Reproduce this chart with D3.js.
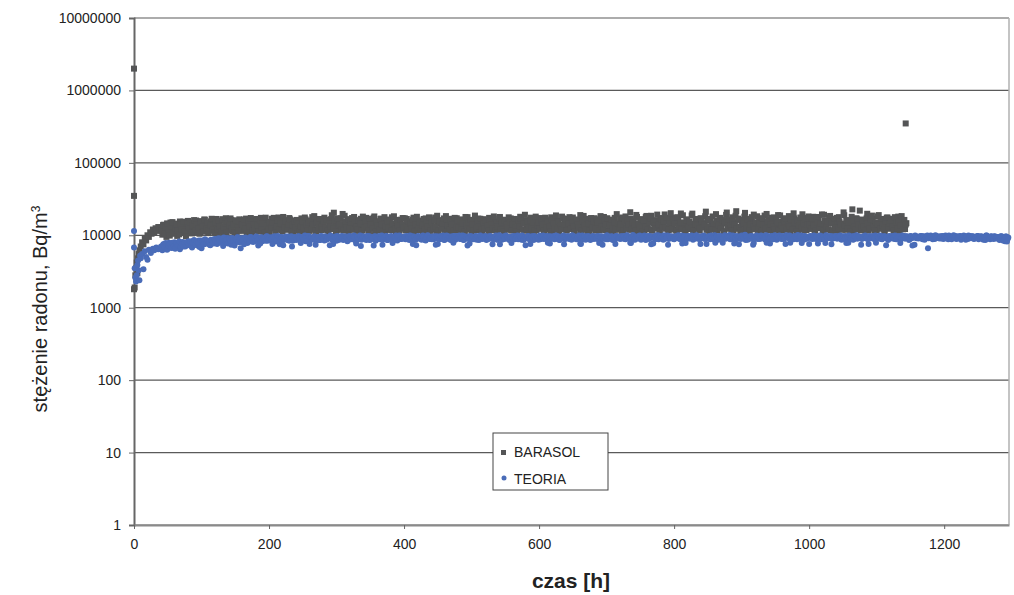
<!DOCTYPE html>
<html lang="pl">
<head>
<meta charset="UTF-8">
<title>Radon concentration</title>
<style>
    html, body { margin: 0; padding: 0; background: #fff; overflow: hidden; }
    text { font-family: "Liberation Sans", Arial, sans-serif; fill: #222; }
</style>
</head>
<body>
<script src="https://cdn.jsdelivr.net/npm/d3@7"></script>
<script>

// ---- data ----
const yTicks = [1, 10, 100, 1000, 10000, 100000, 1000000, 10000000]
const xTicks = [0, 200, 400, 600, 800, 1000, 1200]

// start-up / outlier points [hour, Bq/m3]
const barasolEarly = [
    [0, 2000000], [0, 35000], [0, 1800], [1, 1900], [2, 2800], [3, 3500], [4, 4200],
    [5, 3000], [6, 4800], [7, 5500], [8, 6200], [9, 5000], [10, 7000], [12, 8000],
    [14, 7500], [16, 9000], [18, 8500], [20, 10000], [22, 9500], [24, 11000],
    [26, 10500], [28, 12000], [30, 11000], [32, 12500], [34, 11500], [36, 13000],
    [38, 12000], [1143, 350000]
]
const teoriaEarly = [
    [0, 11500], [0, 6800], [1, 3500], [2, 2600], [3, 2300], [4, 2800], [5, 3900],
    [6, 4500], [7, 3300], [8, 2400], [9, 5200], [10, 4800], [12, 5500], [14, 3400],
    [16, 6000], [18, 5000], [20, 4600], [22, 6300], [25, 5700], [28, 6500],
    [30, 6200], [33, 6800], [36, 6400]
]

// hourly readings from hour 40, in kBq/m3 (even hours / odd hours)
const startHour = 40
const barasolEvenK = [
    12.5, 10.2, 14, 11, 9.5, 13.5, 11.8, 15, 10.5, 13, 12, 14.5, 9.8, 12.8, 15.5, 11.2, 13.6, 10.8, 14.2, 12.2,
    15.8, 11.4, 13.2, 10.6, 14.8, 12.6, 16, 11, 13.8, 10.9, 15.2, 12.4, 16.5, 11.6, 14.4, 10.7, 13.4, 15.6, 11.9, 14.6,
    12.3, 16.8, 11.1, 14.1, 13, 15.9, 10.8, 12.9, 17.2, 11.7, 14.9, 12.1, 16.2, 11.3, 13.7, 15.4, 10.9, 14.3, 16.6, 12.7,
    11.5, 15.1, 13.3, 17, 11.2, 14.7, 12.5, 16.4, 10.8, 13.9, 15.7, 11.8, 14.5, 12.2, 17.4, 11.4, 13.6, 16.1, 12.8, 15.3,
    11, 14.2, 16.9, 12.4, 13.8, 11.6, 15.5, 17.6, 12.1, 14.6, 11.3, 16.3, 13.1, 15, 11.9, 17.3, 12.6, 14.4, 10.9, 16,
    13.5, 11.7, 15.8, 12.3, 17.1, 14, 11.2, 16.6, 12.9, 15.2, 11.5, 13.7, 17.8, 12, 14.8, 11.4, 16.2, 13.2, 15.6, 11.8,
    14.1, 17.5, 12.5, 15.9, 11.1, 13.4, 16.7, 12.2, 20.5, 14.6, 11.6, 15.4, 13, 17.2, 11.9, 14.3, 18.6, 12.7, 15.1, 11.3,
    16.4, 13.6, 12.1, 17.9, 14.7, 11.5, 15.7, 13.1, 16.9, 11.8, 14.2, 12.4, 17.4, 15.3, 11.2, 13.8, 16.1, 12.8, 18.2, 14.5,
    11.6, 15.6, 13.3, 17, 12, 14.9, 11.4, 16.5, 13.7, 15.2, 11.9, 17.7, 12.6, 14.4, 11.1, 16.3, 13, 15.8, 12.3, 17.3,
    14, 11.7, 16.8, 12.9, 15, 11.3, 13.5, 17.5, 12.2, 14.7, 11.8, 16, 13.9, 15.5, 10.9, 12.5, 17.1, 14.3, 11.5, 16.6,
    13.2, 15.9, 12, 17.6, 11.4, 14.6, 9.8, 16.2, 12.7, 15.1, 11.9, 18.4, 13.6, 14.8, 11.2, 16.9, 12.4, 15.4, 13, 17.2,
    11.6, 14.1, 16.5, 12.1, 15.7, 11.3, 13.8, 17.8, 12.6, 14.9, 10.6, 16.3, 13.3, 15.2, 11.8, 17, 12.9, 14.5, 11.1, 16.7,
    13.4, 15.8, 12.3, 17.4, 11.7, 14.2, 16.1, 12.8, 15.5, 11.2, 13.9, 17.9, 12.2, 14.7, 11.5, 16.4, 13.1, 15, 11.9, 17.1,
    14.4, 12.5, 16.8, 11.4, 15.3, 13.6, 18, 12, 14.8, 11.6, 16.2, 13.2, 15.6, 11.1, 17.5, 12.7, 14.1, 16.6, 11.8, 15.1,
    13, 17.3, 12.4, 14.9, 11.3, 16.5, 13.7, 15.4, 12.1, 17.7, 11.5, 14.3, 16, 12.9, 15.8, 11.2, 13.5, 18.1, 12.6, 14.6,
    11.9, 16.9, 13.3, 15.2, 12.2, 17.6, 11.4, 14.5, 16.3, 12.8, 15.7, 11.7, 13.8, 18.5, 12.3, 14.9, 11, 16.7, 13.1, 15.5,
    12.5, 17.2, 11.6, 14.2, 16.1, 12, 15.3, 13.6, 17.9, 11.8, 14.7, 9.6, 16.4, 12.7, 15, 11.3, 17.4, 13.4, 14.4, 12.1,
    16.8, 11.5, 15.6, 13, 18.2, 12.4, 14.6, 11.9, 17, 13.7, 15.9, 12.2, 19.1, 11.4, 14.3, 16.5, 12.8, 15.2, 11.7, 17.8,
    13.5, 15, 12.1, 18.6, 11.6, 14.8, 16.2, 12.6, 15.7, 11.2, 17.3, 13.2, 14.1, 19.4, 12.3, 15.4, 11.8, 16.9, 13.9, 14.5,
    12, 17.6, 11.5, 15.8, 13.3, 20, 12.7, 14.9, 11.3, 16.6, 13.8, 15.1, 12.2, 18.8, 11.9, 14.4, 16.4, 12.5, 15.5, 11.6,
    17.1, 13.1, 14.7, 18.3, 12, 15.9, 11.4, 16.8, 13.6, 14.2, 12.4, 19.6, 11.7, 15.3, 17.4, 12.9, 14.6, 11.2, 16.1, 20.6,
    12.3, 15.7, 13.4, 17.7, 11.8, 14.9, 21.5, 12.6, 16.3, 11.5, 15.1, 13.9, 18.1, 12.1, 14.5, 16.9, 11.3, 15.6, 13.2, 19.3,
    12.8, 14.3, 11.6, 17.2, 13.5, 15.4, 12.2, 18.7, 11.9, 14.8, 16.5, 12.5, 15.9, 11.4, 17.6, 13.7, 14.1, 19, 12, 15.3,
    11.7, 16.7, 13, 14.6, 12.4, 18.4, 11.2, 15.8, 13.8, 17.1, 12.7, 14.4, 11.5, 16.2, 13.3, 19.5, 12.1, 15, 11.8, 17.3,
    13.6, 14.9, 12.3, 18, 11.6, 15.5, 13.1, 16.6, 12.6, 14.2, 11.3, 19.2, 13.9, 15.7, 12, 17.5, 11.7, 14.7, 16.4, 12.9,
    15.2, 11.5, 17.8, 13.4, 14.5, 12.2, 18.9, 11.9, 16, 13.7, 15.4, 12.5, 22.8, 11.4, 14.8, 17.2, 12.8, 15.9, 11.7, 16.5,
    13.2, 14.3, 12.1, 19.8, 11.6, 15.6, 13.5, 17, 12.4, 14.6, 11.8, 18.3, 13, 15.1, 12.7, 16.8, 11.3, 14.1, 17.6, 12.3,
    15.3, 13.6, 16.9, 11.9, 14.4, 12.6, 18.1, 11.5, 15.8, 13.1, 16.2, 12.2, 14.7
]
const barasolOddK = [
    11.5, 13.8, 10.4, 12.9, 14.6, 11.1, 9.9, 13.1, 15.2, 10.7, 12.4, 14.1, 11.6, 10.3, 13.9, 12.1, 15.4, 11.3, 9.7, 14.4,
    12.8, 15, 10.8, 13.5, 16.2, 11.9, 14.2, 12.3, 10.5, 15.7, 13.3, 11.2, 16.4, 12.6, 14.9, 11.5, 13.6, 16.9, 12, 10.9,
    14.8, 12.2, 15.8, 13.4, 11.4, 16.7, 12.7, 14.4, 11, 15.3, 13.8, 17.1, 12.3, 14, 10.9, 16.1, 13, 11.7, 15.6, 14.2,
    13.9, 16.5, 12.3, 11.1, 15.4, 13.2, 17.3, 11.7, 14.1, 12.6, 16.8, 13.5, 11.3, 15.9, 12.9, 14.6, 10.8, 17.5, 13.7, 12.1,
    15.2, 12.7, 14.9, 17.4, 11.5, 13.4, 16.1, 12.2, 14.7, 11.8, 17.9, 13, 15.6, 12.5, 14.2, 16.6, 11.2, 13.9, 15.3, 12.8,
    16.3, 14.5, 11.4, 13.1, 15.7, 12.4, 17.6, 13.8, 11.7, 14.9, 16, 12.1, 14.3, 18.4, 11.5, 15.1, 12.7, 16.8, 13.4, 12,
    15.5, 12.9, 16.4, 11.8, 14.6, 13.2, 18.9, 12.4, 15.9, 11.3, 17.1, 13.7, 14.1, 12.1, 19.7, 11.6, 15.3, 13, 16.7, 12.5,
    14.8, 17.3, 11.9, 15.1, 13.4, 12.2, 16.2, 14.4, 11.5, 18.1, 12.8, 15.6, 13.2, 11.7, 16.9, 14, 12.5, 17.5, 11.4, 15.4,
    13.6, 12, 16.7, 14.2, 11.2, 17.8, 13.1, 15.3, 12.6, 16.1, 11.8, 14.5, 18.3, 12.3, 15.8, 13.5, 11.6, 16.4, 14, 12.8,
    17.2, 13.3, 11.9, 15.6, 14.7, 12.4, 16.5, 11.4, 14.1, 18, 12.9, 15.2, 11.7, 13.8, 16.8, 12.1, 15, 13.4, 17.7, 11.5,
    14.9, 12.6, 16.1, 13.2, 18.6, 11.8, 15.4, 12.3, 14.4, 17.1, 11.1, 16.6, 13.6, 12.2, 15.7, 14.3, 11.6, 17.4, 12.8, 15.9,
    13, 16.4, 12.4, 14.7, 11.4, 17.9, 13.5, 15.1, 12, 16.3, 14, 11.7, 18.7, 12.6, 15.5, 13.1, 16.9, 11.9, 14.6, 12.3,
    15.8, 13.7, 11.5, 16.6, 14.2, 12.5, 18.2, 11.8, 15.2, 13.3, 17, 12.2, 14.8, 11.4, 16.1, 13.9, 12.7, 17.7, 15, 11.6,
    14.1, 16.8, 12.8, 11.3, 15.9, 13.4, 17.3, 12.1, 14.6, 19.2, 11.7, 15.4, 13, 16.2, 12.4, 14.9, 11.5, 18.1, 13.6, 15.2,
    12.3, 16, 14.3, 11.8, 17.5, 12.9, 15.6, 13.2, 11.4, 16.7, 14.5, 12.6, 18.8, 11.9, 15.3, 13.8, 12.2, 17.1, 14, 16.4,
    11.6, 14.7, 17.8, 12.5, 15.1, 13.1, 11.3, 16.5, 14.2, 12.7, 19, 11.8, 15.7, 13.5, 12, 16.9, 14.4, 11.5, 17.3, 13,
    15.4, 12.3, 16.6, 14.8, 11.7, 18.4, 13.3, 12.1, 15.9, 14, 17.2, 11.4, 13.7, 16.3, 12.6, 15, 11.9, 19.6, 14.5, 12.8,
    13.9, 17.6, 11.6, 15.5, 12.4, 16.1, 14.2, 20.8, 12, 15.2, 13.5, 11.8, 17.9, 14.6, 12.7, 16.7, 11.3, 15.8, 13.1, 18.5,
    12.2, 14.9, 16.9, 11.7, 15.3, 13.6, 12.5, 19.3, 14.1, 11.4, 16.4, 13, 15.7, 12.9, 17.4, 11.9, 14.7, 20.2, 12.3, 16,
    14.4, 11.6, 17.7, 13.4, 15, 12.1, 18.9, 14.8, 11.8, 16.2, 13.2, 15.5, 12.6, 19.9, 11.5, 14.2, 16.8, 13.7, 12.4, 17.1,
    15.6, 12.8, 14.1, 21.2, 11.9, 16.5, 13.3, 12.2, 18.2, 14.6, 11.7, 15.9, 13.8, 17.3, 12.5, 16.1, 11.4, 14.9, 19.1, 12.9,
    16.6, 13.5, 11.8, 15.4, 14.3, 18.6, 12.3, 17, 13.1, 11.6, 15.8, 14.7, 20.4, 12.6, 16.3, 11.9, 14, 17.8, 13.4, 12.1,
    15.1, 18.3, 12.7, 14.5, 11.5, 16.9, 13.9, 12.4, 19.7, 15.4, 11.8, 14.2, 17.5, 13.2, 12, 16.2, 14.8, 11.6, 18.8, 13.6,
    12.5, 15.6, 17.2, 11.9, 14.3, 13.1, 16.6, 12.2, 20.1, 14.9, 11.4, 15.8, 13.5, 17.6, 12.8, 14.6, 11.7, 16.4, 13.9, 18.2,
    14.1, 12.3, 16.8, 13.7, 11.6, 17.9, 15.2, 12.9, 14.4, 19.4, 11.8, 16, 13.3, 15.5, 12.1, 18.5, 14.7, 11.5, 16.9, 13,
    17.4, 12.6, 15.3, 14, 11.9, 20.7, 13.6, 16.2, 12.4, 14.8, 11.3, 18, 15.7, 13.1, 12.2, 16.6, 14.3, 21.9, 12.7, 15.9,
    13.4, 11.7, 17.1, 14.6, 12.5, 16.4, 18.7, 13.2, 11.6, 15.1, 14.2, 19, 12.3, 16.8, 13.8, 11.9, 15.6, 17.5, 12.8, 14.4,
    16.1, 13.3, 11.5, 17.8, 14.9, 12.4, 15.5, 13.7, 18.4, 12.1, 16.3, 14.1
]
const teoriaEvenK = [
    7, 6.2, 7.6, 6.8, 7.3, 6.5, 7.9, 7.1, 6.7, 7.5, 8, 6.9, 7.4, 7.8, 6.4, 7.2, 8.1, 7.6, 7, 7.7,
    8.2, 7.3, 7.9, 6.8, 8.4, 7.6, 8.1, 7.2, 8.5, 7.8, 6.6, 8.3, 7.5, 8.6, 7.9, 8.2, 7.4, 8.7, 8, 7.7,
    8.4, 8.9, 7.8, 8.6, 9, 8.2, 7.1, 8.8, 8.5, 9.2, 8.1, 8.7, 7.4, 9.1, 8.3, 8.9, 8.6, 9.3, 8, 6.6,
    8.8, 9.2, 8.4, 9, 7.8, 8.6, 9.4, 8.2, 8.9, 9.1, 8.5, 9.5, 7.2, 8.7, 9.3, 8.3, 9, 8.8, 9.6, 8.4,
    9.1, 8.6, 9.4, 8.9, 9.7, 8.2, 9.2, 8.7, 7.5, 9.5, 8.5, 9, 9.3, 8.8, 9.6, 8.4, 9.1, 7, 8.9, 9.4,
    8.6, 9.2, 9.7, 8.5, 9, 8.8, 9.5, 8.3, 9.3, 9.8, 7.6, 8.9, 9.1, 8.7, 9.6, 8.4, 9.4, 9, 8.6, 9.7,
    9.2, 8.5, 9.5, 8.9, 9.3, 7.3, 9.7, 8.7, 9.1, 9.6, 8.4, 9, 9.4, 8.8, 9.8, 8.6, 9.2, 9.5, 8.3, 9.1,
    9.6, 8.9, 9.3, 9.9, 8.5, 9.1, 9.4, 8.8, 7.1, 9.7, 9, 9.5, 8.6, 9.2, 9.8, 8.7, 9.4, 9, 9.6, 8.4,
    9.3, 9.7, 8.8, 9.1, 7.4, 9.5, 8.9, 9.8, 8.6, 9.2, 9.6, 8.7, 9.4, 9, 9.9, 8.5, 9.3, 9.7, 8.9, 9.1,
    9.5, 8.8, 9.8, 9.2, 8.6, 9.4, 9.7, 8.9, 9.1, 7.3, 9.6, 9, 9.3, 8.7, 9.9, 9.2, 8.5, 9.5, 9.8, 8.9,
    9.1, 9.6, 8.8, 9.4, 9.7, 7.6, 9.2, 8.9, 9.5, 9.9, 8.6, 9.3, 9, 9.7, 8.8, 9.4, 9.1, 9.8, 8.7, 9.5,
    9.2, 9.9, 8.9, 9.4, 8.6, 9.6, 9.1, 7.2, 9.7, 9, 9.5, 8.8, 9.3, 9.8, 8.7, 9.4, 9.1, 9.6, 8.9, 9.3,
    9.8, 8.6, 9.5, 9, 9.7, 9.2, 8.8, 9.4, 9.9, 8.7, 9.1, 7.5, 9.6, 9.3, 8.9, 9.8, 9, 9.5, 8.6, 9.2,
    9.7, 9.1, 8.8, 9.5, 9.9, 9, 9.3, 8.7, 9.6, 9.2, 7.3, 9.4, 9.8, 8.9, 9.1, 9.7, 8.6, 9.5, 9.3, 9,
    9.6, 8.8, 9.4, 9.9, 9.1, 9.3, 8.7, 9.7, 7.7, 9.5, 9, 9.8, 8.9, 9.2, 9.6, 8.6, 9.4, 9.1, 9.9, 8.8,
    9.3, 9.7, 9, 9.5, 8.7, 9.8, 9.2, 9.4, 8.9, 9.6, 9.1, 7.6, 9.9, 8.8, 9.3, 9.7, 9, 9.5, 8.6, 9.4,
    9.8, 9.1, 9.6, 8.9, 9.3, 9.7, 8.7, 7.4, 9.5, 9.2, 9.9, 8.8, 9.4, 9, 9.6, 9.1, 8.6, 9.8, 9.3, 9.5,
    8.9, 9.7, 9.2, 9.4, 8.8, 10, 9.1, 9.6, 7.8, 9.3, 9.8, 8.7, 9.5, 9, 9.7, 9.2, 8.9, 9.4, 9.9, 8.6,
    9.5, 9.1, 9.8, 7.5, 9.3, 9.6, 8.8, 9.4, 10, 9, 9.7, 9.2, 8.7, 9.5, 9.1, 9.9, 8.9, 9.4, 9.6, 9.2,
    8.8, 9.7, 9.3, 10, 9, 9.5, 7.7, 9.2, 9.8, 8.9, 9.6, 9.1, 9.4, 9.9, 8.7, 9.3, 9.7, 9, 9.5, 8.8,
    9.6, 9.2, 9.9, 8.9, 7.6, 9.4, 9.7, 9.1, 9.5, 8.8, 10, 9.3, 9.6, 8.7, 9.8, 9.2, 7.9, 9.4, 9, 9.7,
    9.3, 10.1, 8.9, 9.5, 9.2, 9.8, 8.8, 9.6, 7.5, 9.4, 9.9, 9.1, 9.7, 8.6, 9.3, 9.6, 9, 9.8, 9.2, 7.8,
    9.5, 9.9, 8.9, 9.4, 9.7, 9.1, 9.6, 8.8, 10, 9.3, 9.5, 7.7, 9.8, 9, 9.4, 9.7, 8.7, 9.2, 9.9, 9.1,
    9.6, 8.9, 9.4, 10, 9.2, 9.7, 7.9, 9.5, 9, 9.8, 9.3, 8.8, 9.6, 9.1, 9.9, 9.4, 8.7, 9.7, 9.2, 9.5,
    7.6, 9.8, 9, 9.4, 9.7, 8.9, 9.5, 9.2, 9.9, 8.8, 9.6, 9.3, 7.8, 9.7, 9.1, 9.4, 9.8, 8.9, 9.5, 9.2,
    9.7, 9, 9.4, 9.9, 8.7, 9.6, 9.2, 9.8, 9.1, 7.9, 9.5, 9.3, 9.7, 8.8, 9.4, 10, 9, 9.6, 9.2, 8.9,
    9.5, 9.8, 9.1, 9.4, 7.6, 9.7, 9.2, 9.6, 8.9, 9.9, 9.3, 9.5, 9, 9.8, 8.8, 9.4, 9.7, 7.3, 9.2, 9.6,
    9.4, 9.1, 9.8, 8.9, 9.5, 9.7, 9.2, 9.6, 8.8, 9.9, 9.3, 9, 9.7, 9.4, 8.6, 9.8, 9.1, 9.5, 7.4, 9.3,
    9.6, 9, 9.4, 9.8, 8.8, 9.7, 9.2, 9.5, 6.6, 9.4, 9.9, 9.1, 9.6, 8.9, 9.8, 9.3, 9.5, 9.7, 9, 9.6,
    9.2, 9.9, 9.4, 8.8, 9.7, 9.1, 9.5, 10, 9.3, 8.9, 9.6, 9.2, 9.8, 9, 9.4, 9.7, 8.7, 9.5, 9.9, 9.1,
    9.4, 9.7, 8.9, 9.5, 9.2, 9.8, 9, 9.6, 9.3, 8.7, 9.5, 9.9, 9.1, 9.4, 8.8, 9.7, 9.2, 9.6, 9, 9.5,
    9.3, 8.6, 9.7, 9.1, 9.4, 8.3, 9.6, 8.9
]
const teoriaOddK = [
    6.6, 7.4, 6.9, 7.8, 6.3, 7.2, 7.6, 6.8, 7.9, 7.1, 6.5, 7.7, 7.3, 8.2, 6.9, 7.5, 7, 7.9, 7.4, 8,
    7.6, 8.3, 7.1, 7.9, 8.6, 7.4, 8.2, 7.8, 6.9, 8.5, 8, 7.5, 8.8, 7.7, 8.4, 8.1, 7.3, 8.6, 7.9, 8.9,
    8.2, 7.6, 9.1, 8.5, 7.9, 8.8, 9.3, 8.3, 8.7, 7.7, 9, 8.4, 9.2, 8.6, 7.2, 8.9, 9.4, 8.1, 8.7, 9.1,
    8.5, 7.5, 9.3, 8.7, 9, 8.3, 9.5, 8.9, 8.1, 9.2, 9.6, 8.6, 9, 7.7, 9.4, 8.8, 9.1, 8.4, 9.7, 8.9,
    9.3, 8.7, 7.6, 9.5, 9, 8.5, 9.8, 9.2, 8.8, 9.4, 7.3, 9.1, 9.6, 8.6, 9.3, 8.9, 9.7, 8.4, 9.2, 9.5,
    8.8, 9.6, 9.1, 7.8, 9.4, 8.7, 9.9, 9.2, 8.5, 9.7, 9, 9.3, 8.9, 9.6, 7.4, 9.1, 9.5, 8.6, 9.8, 9.2,
    9, 9.7, 8.7, 9.4, 9.1, 9.9, 8.8, 7.6, 9.5, 9.2, 9.8, 8.6, 9.3, 9.6, 9, 8.9, 9.7, 9.4, 8.5, 9.8,
    9.2, 8.8, 9.7, 9.4, 7.7, 9.5, 9, 9.9, 8.7, 9.3, 9.6, 8.9, 9.8, 9.1, 8.6, 9.5, 9.2, 7.2, 9.7, 9.4,
    8.9, 9.6, 9.1, 9.9, 8.8, 9.4, 9.7, 8.6, 9.3, 9, 9.8, 7.8, 9.5, 9.2, 8.7, 9.6, 9.9, 8.9, 9.4, 9.1,
    9.7, 9, 8.8, 9.5, 9.9, 9.2, 7.6, 9.6, 8.7, 9.4, 9.8, 9.1, 8.9, 9.7, 9.3, 8.6, 9.5, 10, 9, 9.2,
    8.8, 9.4, 9.7, 7.4, 9.1, 9.6, 8.9, 9.8, 9.3, 8.7, 9.5, 9.9, 9, 9.2, 8.6, 9.7, 7.9, 9.4, 9.8, 9.1,
    9.5, 8.9, 9.2, 9.9, 8.7, 9.6, 9.4, 9, 7.7, 9.8, 9.1, 9.5, 8.8, 9.3, 9.7, 8.6, 9.9, 9.2, 9.4, 9,
    9.6, 9.3, 8.9, 9.8, 9.1, 7.5, 9.5, 9.7, 8.8, 9.4, 10, 9.2, 8.7, 9.6, 9, 9.9, 9.3, 8.9, 9.5, 7.8,
    9.2, 9.8, 9, 9.5, 8.8, 9.7, 9.3, 9.9, 8.6, 9.4, 9.1, 9.7, 8.9, 7.6, 9.6, 9.2, 9.8, 9, 9.4, 8.7,
    9.9, 9.3, 9.6, 8.9, 9.1, 9.8, 7.9, 9.4, 9.7, 9, 9.5, 8.8, 9.9, 9.2, 9.6, 8.7, 9.3, 9.8, 7.5, 9.5,
    9.1, 9.7, 8.9, 9.4, 10, 9.2, 9.6, 8.8, 9.5, 9.9, 7.7, 9.3, 9.1, 9.7, 8.7, 9.5, 9.8, 9, 9.4, 9.6,
    8.9, 9.5, 9.2, 9.8, 7.8, 9.4, 9.7, 9, 9.6, 8.8, 9.9, 9.3, 9.1, 9.7, 8.6, 9.5, 7.6, 9.8, 9.2, 9.4,
    9.6, 9, 9.8, 8.9, 9.4, 9.7, 9.2, 7.9, 9.5, 10.1, 8.8, 9.3, 9.6, 9.1, 9.9, 8.7, 9.4, 9.7, 9, 9.5,
    9.8, 8.9, 9.3, 9.6, 7.7, 9.2, 9.9, 9.4, 8.8, 9.7, 9.1, 9.5, 10, 9, 9.3, 7.4, 9.8, 9.2, 9.6, 8.9,
    9.4, 9.7, 9.1, 9.5, 8.8, 9.9, 9.3, 9.6, 7.8, 9.2, 9.8, 9, 9.5, 9.7, 8.9, 9.4, 10, 9.1, 9.6, 7.6,
    9.3, 9.8, 9, 9.5, 9.2, 9.7, 8.8, 9.9, 9.4, 9.1, 7.9, 9.6, 9.3, 9.8, 8.9, 9.5, 9.2, 10, 9, 9.7,
    9.4, 8.8, 9.6, 9.9, 7.7, 9.3, 9.7, 9.1, 9.5, 8.9, 9.8, 9.2, 10.2, 9.6, 8.7, 9.4, 9, 9.8, 7.4, 9.5,
    9.1, 9.7, 9.3, 8.9, 9.9, 9.6, 9.2, 9.5, 7.9, 9.8, 9, 9.4, 9.7, 8.8, 10, 9.3, 9.6, 9.1, 9.5, 8.9,
    9.8, 9.2, 7.6, 9.7, 9.4, 9.9, 9, 9.5, 8.8, 9.6, 9.3, 10.1, 9.1, 9.7, 7.8, 9.4, 9.8, 8.9, 9.5, 9.2,
    9.7, 9.4, 8.9, 9.9, 9.2, 9.6, 7.7, 9.3, 9.8, 9, 9.5, 8.8, 10, 9.4, 9.7, 9.1, 7.5, 9.6, 9.3, 9.8,
    9, 9.5, 9.8, 8.9, 9.3, 9.7, 9.1, 7.8, 9.6, 9.9, 9.2, 9.4, 8.7, 9.8, 9.5, 9, 9.7, 9.3, 7.4, 9.6,
    9.2, 9.9, 9.4, 8.8, 9.7, 9.1, 9.5, 9.8, 9, 7.9, 9.6, 9.3, 9.9, 8.9, 9.4, 9.7, 9.2, 9.5, 8.6, 9.8,
    9.1, 9.6, 9.3, 9.9, 8.8, 9.5, 9.7, 7.8, 9.2, 9.4, 9.8, 9, 9.6, 9.3, 8.9, 9.7, 7.2, 9.4, 9.9, 9.1,
    9.5, 9.2, 9.8, 9, 9.6, 8.7, 9.4, 9.9, 9.1, 9.7, 9.3, 8.8, 9.5, 10, 9.2, 9.6, 9, 9.4, 9.8, 8.9,
    9.7, 9.1, 9.5, 9.9, 9.3, 8.8, 9.6, 9.2, 9.8, 9, 9.4, 9.7, 8.7, 9.5, 9.9, 9.1, 9.6, 8.9, 9.3, 9.8,
    9.2, 9.6, 9, 9.4, 9.8, 8.8, 9.5, 9.7, 9.1, 9.3, 8.6, 9.9, 9.4, 9, 9.6, 9.2, 8.9, 9.7, 9.3, 9.5,
    8.8, 9.4, 9.7, 8.5, 9.2, 9.6, 8.2, 9.3
]

// ---- layout ----
const width = 1014
const height = 595
const margin = { top: 18, right: 5, bottom: 70, left: 134 }
const w = width - margin.left - margin.right
const h = height - margin.top - margin.bottom

const svg = d3.select('body').append('svg')
    .attr('width', width)
    .attr('height', height)

const x = d3.scaleLinear().domain([0, 1296]).range([0, w])
const y = d3.scaleLog().domain([1, 10000000]).range([h, 0])

const g = svg.append('g')
    .attr('transform', `translate(${margin.left}, ${margin.top})`)

// grid lines
g.selectAll('.grid')
    .data(yTicks)
    .enter()
    .append('line')
    .attr('class', 'grid')
    .attr('x1', 0).attr('x2', w)
    .attr('y1', d => y(d)).attr('y2', d => y(d))
    .attr('stroke', '#5a5a5a')
    .attr('stroke-width', 1.2)

// right border
g.append('line')
    .attr('x1', w).attr('x2', w)
    .attr('y1', 0).attr('y2', h)
    .attr('stroke', '#b0b0b0')
    .attr('stroke-width', 1.5)

// axes
const yAxis = g.append('g')
    .call(d3.axisLeft(y).tickValues(yTicks).tickFormat(d3.format('d')).tickSize(5).tickPadding(8))
yAxis.select('.domain').attr('stroke', '#666').attr('stroke-width', 2)
yAxis.selectAll('.tick line').attr('stroke', '#666')
yAxis.selectAll('text').style('font-size', '14px').attr('fill', '#222')

const xAxis = g.append('g')
    .attr('transform', `translate(0, ${h})`)
    .call(d3.axisBottom(x).tickValues(xTicks).tickFormat(d3.format('d')).tickSize(4).tickPadding(10).tickSizeOuter(0))
xAxis.select('.domain').attr('stroke', '#8a8a8a').attr('stroke-width', 2)
xAxis.selectAll('.tick line').attr('stroke', '#666')
xAxis.selectAll('text').style('font-size', '14px').attr('fill', '#222')

// points: merge even and odd hour readings
const hourly = (even, odd) => even.map((v, i) => [startHour + 2 * i, v * 1000])
    .concat(odd.map((v, i) => [startHour + 1 + 2 * i, v * 1000]))
const barasolPts = barasolEarly.concat(hourly(barasolEvenK, barasolOddK))
const teoriaPts = teoriaEarly.concat(hourly(teoriaEvenK, teoriaOddK))

g.selectAll('.barasol')
    .data(barasolPts)
    .enter()
    .append('rect')
    .attr('class', 'barasol')
    .attr('x', d => x(d[0]) - 3)
    .attr('y', d => y(d[1]) - 3)
    .attr('width', 6)
    .attr('height', 6)
    .attr('fill', '#545556')

g.selectAll('.teoria')
    .data(teoriaPts)
    .enter()
    .append('circle')
    .attr('class', 'teoria')
    .attr('cx', d => x(d[0]))
    .attr('cy', d => y(d[1]))
    .attr('r', 3)
    .attr('fill', '#4a6cb8')

// legend
const legend = svg.append('g').attr('transform', 'translate(493, 433)')
legend.append('rect')
    .attr('width', 115).attr('height', 57)
    .attr('fill', '#fff')
    .attr('stroke', '#444')
    .attr('stroke-width', 1)
legend.append('rect')
    .attr('x', 8).attr('y', 17).attr('width', 5).attr('height', 5)
    .attr('fill', '#545556')
legend.append('circle')
    .attr('cx', 11).attr('cy', 45).attr('r', 2.5)
    .attr('fill', '#4a6cb8')
legend.append('text').attr('x', 21).attr('y', 24).style('font-size', '14px').text('BARASOL')
legend.append('text').attr('x', 21).attr('y', 51).style('font-size', '14px').text('TEORIA')

// axis titles
svg.append('text')
    .attr('x', 571)
    .attr('y', 588)
    .attr('text-anchor', 'middle')
    .style('font-size', '21px')
    .style('font-weight', 'bold')
    .text('czas [h]')

const yTitle = svg.append('text')
    .attr('transform', 'translate(47, 309) rotate(-90)')
    .attr('text-anchor', 'middle')
    .style('font-size', '20px')
yTitle.append('tspan').text('stężenie radonu, Bq/m')
yTitle.append('tspan').attr('baseline-shift', 'super').style('font-size', '12px').text('3')

</script>
</body>
</html>
